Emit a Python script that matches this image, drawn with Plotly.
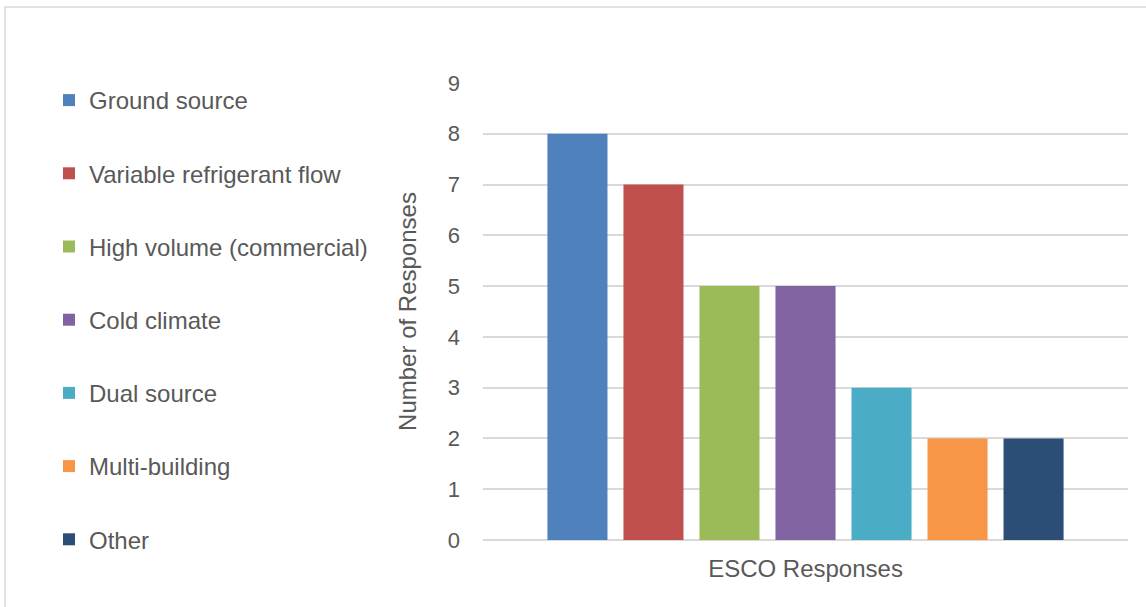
import plotly.graph_objects as go

categories = ["ESCO Responses"]
series_names = ["Ground source", "Variable refrigerant flow", "High volume (commercial)",
                "Cold climate", "Dual source", "Multi-building", "Other"]
series_values = [8, 7, 5, 5, 3, 2, 2]
series_colors = ["#4F81BD", "#C0504D", "#9BBB59", "#8064A2", "#4BACC6", "#F79646", "#2C4D75"]
y_ticks = list(range(0, 10))

W, H = 1146, 607
ML, MR, MT, MB = 483, 18, 83, 67
PW, PH = W - ML - MR, H - MT - MB
FONT = "Arial, Liberation Sans, sans-serif"
TXT = "#595959"

fig = go.Figure()
for name, val, col in zip(series_names, series_values, series_colors):
    fig.add_trace(go.Bar(x=categories, y=[val], name=name, marker_color=col,
                         marker_line_width=0, legendgroup=name))

def px_x(p):
    return (p - ML) / PW

def px_y(p):
    return 1 - (p - MT) / PH

fig.add_shape(type="rect", xref="paper", yref="paper",
              x0=px_x(5), x1=px_x(1150), y0=px_y(612), y1=px_y(7),
              line=dict(color="#D9D9D9", width=1.5), fillcolor="rgba(0,0,0,0)", layer="below")

fig.update_layout(
    width=W, height=H,
    margin=dict(l=ML, r=MR, t=MT, b=MB, autoexpand=False),
    paper_bgcolor="white", plot_bgcolor="white",
    font=dict(family=FONT, color=TXT, size=22),
    barmode="group", bargap=0.175, bargroupgap=0.21,
    showlegend=True,
    legend=dict(x=px_x(49), xanchor="left", y=px_y(78), yanchor="top",
                font=dict(size=24, color=TXT, family=FONT), maxheight=600,
                tracegroupgap=39, traceorder="grouped", bgcolor="rgba(0,0,0,0)"),
    xaxis=dict(showgrid=False, showline=False, zeroline=False, ticks="",
               tickfont=dict(size=24, color=TXT), ticklabelstandoff=12),
    yaxis=dict(range=[0, 9], tickvals=y_ticks, showgrid=True, gridcolor="#D9D9D9", gridwidth=1.5,
               zeroline=True, zerolinecolor="#D9D9D9", zerolinewidth=1.5, showline=False,
               ticks="", tickfont=dict(size=22, color=TXT), ticklabelstandoff=22,
               title=dict(text="Number of Responses", font=dict(size=24, color=TXT), standoff=24)),
)

fig.write_html("out.html")
